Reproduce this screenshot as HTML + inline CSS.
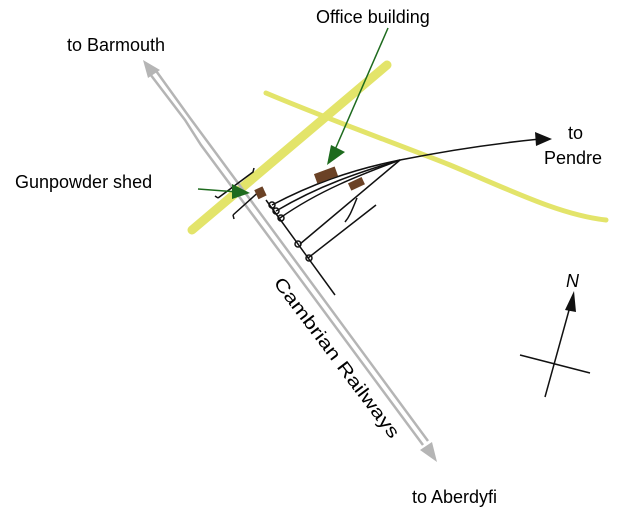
<!DOCTYPE html>
<html><head><meta charset="utf-8"><style>
html,body{margin:0;padding:0;background:#fff;}
svg{display:block;}
text{font-family:"Liberation Sans",sans-serif;font-size:18px;fill:#000;}
</style></head><body>
<svg width="627" height="512" viewBox="0 0 627 512" xmlns="http://www.w3.org/2000/svg">
<path d="M192,230 L387,65" stroke="#e3e46a" stroke-width="9" stroke-linecap="round" fill="none"/>
<path d="M266,93 C330,120 400,145 450,165 C510,190 560,215 606,220" stroke="#e3e46a" stroke-width="5" stroke-linecap="round" fill="none"/>
<g stroke="#b5b5b5" stroke-width="2.5" fill="none">
<path d="M147,70 L185,120 L201,145 L423,445"/>
<path d="M154,68 L190,118 L207,141 L428,441"/>
</g>
<polygon points="143,60 160,70 148,78" fill="#b5b5b5"/>
<polygon points="437,462 420,450 432,442" fill="#b5b5b5"/>
<g stroke="#111" stroke-width="1.5" fill="none">
<path d="M266,200 L335,295"/>
<path d="M272,205 C310,185 350,170 400,160 C450,150 500,143 540,139"/>
<path d="M276,211 C320,185 360,172 400,160"/>
<path d="M280,218 C320,190 360,175 400,160"/>
<path d="M300,244 L400,160"/>
<path d="M308,258 L376,205"/>
<path d="M357,198 C352,210 350,216 345,222"/>
<circle cx="272" cy="205" r="3"/><circle cx="276" cy="211" r="3"/><circle cx="281" cy="218" r="3"/>
<circle cx="298" cy="244" r="3"/><circle cx="309" cy="258" r="3"/>
<path d="M218,198 L253,172 L254,168"/>
<path d="M233,215 L263,188"/>
<path d="M218,198 L215,196"/><path d="M233,215 L234,219"/>
</g>
<polygon points="552,139 535,132 536,146" fill="#111"/>
<rect x="315" y="170" width="22" height="10" fill="#6b4226" transform="rotate(-20 326 175)"/>
<rect x="349" y="180" width="15" height="8" fill="#6b4226" transform="rotate(-25 356 184)"/>
<rect x="256" y="188" width="9" height="10" fill="#6b4226" transform="rotate(-25 260 193)"/>
<g stroke="#1e6b1e" stroke-width="1.5">
<line x1="388" y1="28" x2="334" y2="152"/>
<line x1="198" y1="189" x2="238" y2="192"/>
</g>
<polygon points="327,165 331,145 345,152" fill="#1e6b1e"/>
<polygon points="250,193 232,184 232,199" fill="#1e6b1e"/>
<g stroke="#111" stroke-width="1.5">
<line x1="545" y1="397" x2="571" y2="303"/>
<line x1="520" y1="355" x2="590" y2="373"/>
</g>
<polygon points="574,291 565,310 576,312" fill="#111"/>
<text x="566" y="287" font-style="italic">N</text>
<text x="316" y="23">Office building</text>
<text x="67" y="51">to Barmouth</text>
<text x="15" y="188">Gunpowder shed</text>
<text x="568" y="139">to</text>
<text x="544" y="164">Pendre</text>
<text x="412" y="503">to Aberdyfi</text>
<text transform="translate(273,283) rotate(53)" font-size="19" textLength="196" lengthAdjust="spacingAndGlyphs">Cambrian Railways</text>
</svg>
</body></html>
